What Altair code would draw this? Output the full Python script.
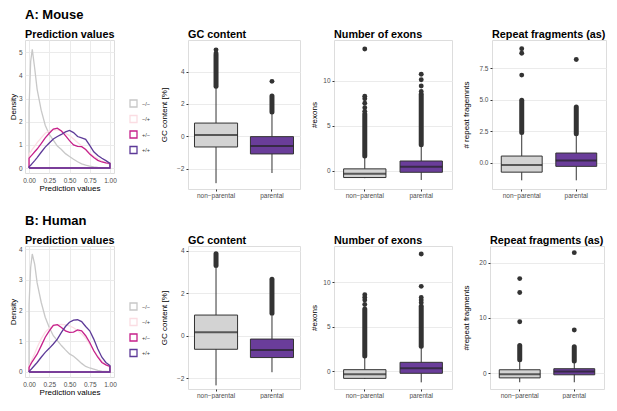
import altair as alt
import pandas as pd

FONT = "Liberation Sans"
GROUPS = ["−/−", "−/+", "+/−", "+/+"]
GROUP_COLORS = ["#c8c8c8", "#fbdde3", "#c6218b", "#5d3a98"]
CATS = ["non−parental", "parental"]
CAT_FILL = ["#d3d3d3", "#6a3d9a"]

DENS_X = [0.0, 0.02, 0.04, 0.07, 0.1, 0.15, 0.2, 0.25, 0.3, 0.35, 0.4, 0.45,
          0.5, 0.55, 0.6, 0.65, 0.7, 0.75, 0.8, 0.85, 0.9, 0.95, 1.0]

MOUSE_NN = [2.6, 4.6, 5.13, 4.3, 3.4, 2.5, 1.85, 1.45, 1.2, 0.95, 0.8, 0.62,
            0.5, 0.38, 0.27, 0.18, 0.12, 0.08, 0.05, 0.03, 0.02, 0.01, 0.0]
MOUSE_NP = [0.6, 0.7, 0.8, 0.95, 1.1, 1.3, 1.5, 1.6, 1.65, 1.65, 1.6, 1.5,
            1.4, 1.25, 1.1, 0.95, 0.8, 0.65, 0.5, 0.4, 0.3, 0.22, 0.15]
MOUSE_PN = [0.42, 0.5, 0.58, 0.7, 0.82, 1.05, 1.3, 1.5, 1.68, 1.72, 1.6, 1.4,
            1.18, 1.0, 0.93, 0.92, 0.8, 0.6, 0.45, 0.33, 0.26, 0.22, 0.2]
MOUSE_PP = [0.05, 0.12, 0.2, 0.32, 0.45, 0.68, 0.9, 1.08, 1.25, 1.36, 1.45, 1.56,
            1.62, 1.53, 1.36, 1.3, 1.24, 0.98, 0.7, 0.54, 0.42, 0.32, 0.2]

HUMAN_NN = [2.2, 3.4, 3.84, 3.5, 2.9, 2.27, 1.78, 1.45, 1.18, 1.02, 0.86, 0.72,
            0.59, 0.51, 0.4, 0.28, 0.18, 0.13, 0.09, 0.05, 0.03, 0.02, 0.01]
HUMAN_NP = [0.2, 0.3, 0.42, 0.6, 0.8, 1.08, 1.3, 1.42, 1.5, 1.54, 1.55, 1.53,
            1.5, 1.44, 1.35, 1.24, 1.1, 0.9, 0.7, 0.52, 0.35, 0.24, 0.15]
HUMAN_PN = [0.15, 0.25, 0.34, 0.46, 0.58, 0.85, 1.13, 1.34, 1.52, 1.54, 1.45, 1.34,
            1.29, 1.3, 1.37, 1.34, 1.18, 0.96, 0.69, 0.48, 0.31, 0.23, 0.18]
HUMAN_PP = [0.02, 0.07, 0.13, 0.22, 0.31, 0.48, 0.64, 0.77, 0.91, 1.07, 1.29, 1.48,
            1.62, 1.69, 1.7, 1.64, 1.48, 1.34, 1.07, 0.75, 0.48, 0.31, 0.21]

# box stats: [lower whisker, q1, median, q3, upper whisker]
M_GC_NP = [-2.9, -0.66, 0.08, 0.82, 3.05]
M_GC_P = [-2.27, -1.09, -0.6, -0.02, 1.45]
M_GC_DENSE = [("non−parental", 3.1, 5.05), ("parental", 1.5, 2.5)]
M_GC_OUT = [("non−parental", 5.15), ("non−parental", 5.35), ("parental", 3.4)]

M_EX_NP = [-0.8, -0.73, -0.3, 0.23, 1.56]
M_EX_P = [-1.0, -0.15, 0.46, 1.1, 2.8]
M_EX_DENSE = [("non−parental", 1.65, 6.3), ("parental", 2.9, 8.5)]
M_EX_OUT = [("non−parental", 6.6), ("non−parental", 7.0), ("non−parental", 7.5),
            ("non−parental", 8.0), ("non−parental", 8.28), ("non−parental", 13.5),
            ("parental", 8.8), ("parental", 9.4), ("parental", 10.1), ("parental", 10.7)]

M_RF_NP = [-1.41, -0.76, -0.19, 0.52, 2.34]
M_RF_P = [-1.41, -0.3, 0.16, 0.76, 2.2]
M_RF_DENSE = [("non−parental", 2.4, 4.95), ("parental", 2.3, 4.43)]
M_RF_OUT = [("non−parental", 6.96), ("non−parental", 8.7), ("non−parental", 9.05),
            ("parental", 8.2)]

H_GC_NP = [-2.34, -0.64, 0.16, 0.97, 3.2]
H_GC_P = [-1.72, -1.03, -0.67, -0.16, 0.95]
H_GC_DENSE = [("non−parental", 3.3, 3.85), ("parental", 1.06, 2.65)]
H_GC_OUT = []

H_EX_NP = [-0.9, -0.83, -0.38, 0.15, 1.65]
H_EX_P = [-1.28, -0.26, 0.3, 0.98, 2.67]
H_EX_DENSE = [("non−parental", 1.7, 7.0), ("parental", 2.8, 7.3)]
H_EX_OUT = [("non−parental", 7.5), ("non−parental", 8.0), ("non−parental", 8.3),
            ("non−parental", 8.6), ("parental", 7.7), ("parental", 8.0),
            ("parental", 8.3), ("parental", 9.55), ("parental", 13.2)]

H_RF_NP = [-1.65, -0.86, -0.18, 0.61, 2.3]
H_RF_P = [-1.65, -0.3, 0.3, 0.8, 2.0]
H_RF_DENSE = [("non−parental", 2.4, 5.0), ("parental", 2.2, 4.77)]
H_RF_OUT = [("non−parental", 9.3), ("non−parental", 14.6), ("non−parental", 17.1),
            ("parental", 7.8), ("parental", 21.8)]

TICK_LABEL = dict(labelColor="#4d4d4d", labelFontSize=6.5, labelFont=FONT)
TITLE_AX = dict(titleColor="#000", titleFontSize=8, titleFontWeight="normal", titleFont=FONT)
SUB_T = dict(anchor="start", frame="group", fontSize=10.8, fontWeight="bold", font=FONT, color="#000")


def dens_df(series):
    rows = []
    for g, vals in zip(GROUPS, series):
        pts = [(0.0, 0.0)] + list(zip(DENS_X, vals)) + [(1.0, 0.0), (0.0, 0.0)]
        for i, (x, y) in enumerate(pts):
            rows.append({"group": g, "x": x, "y": y, "ord": i})
    return pd.DataFrame(rows)


def density_chart(label, series, ydom, yvals, height, legend_y):
    w = 89
    return alt.Chart(dens_df(series)).mark_line(strokeWidth=1.3).encode(
        x=alt.X("x:Q", scale=alt.Scale(domain=[-0.05, 1.05], nice=False, zero=False),
                axis=alt.Axis(values=[0, 0.25, 0.5, 0.75, 1], format=".2f", title="Prediction values",
                              ticks=False, domain=False, gridColor="#ebebeb", labelPadding=4,
                              titlePadding=1, **TICK_LABEL, **TITLE_AX)),
        y=alt.Y("y:Q", scale=alt.Scale(domain=ydom, nice=False, zero=False),
                axis=alt.Axis(values=yvals, title="Density", ticks=False, domain=False,
                              gridColor="#ebebeb", labelPadding=3, titlePadding=1,
                              **TICK_LABEL, **TITLE_AX)),
        color=alt.Color("group:N", scale=alt.Scale(domain=GROUPS, range=GROUP_COLORS),
                        legend=alt.Legend(title=None, orient="none", legendX=w + 15, legendY=legend_y,
                                          padding=0, symbolType="square", symbolSize=49,
                                          symbolStrokeWidth=1.3, symbolFillColor="white",
                                          labelFontSize=5.5, labelColor="#333", labelFont=FONT,
                                          rowPadding=2.5, labelOffset=4)),
        detail="group:N",
        order="ord:Q",
    ).properties(width=w, height=height,
                 title=alt.TitleParams(label, subtitle="Prediction values", offset=0,
                                       anchor="start", frame="group", fontSize=13,
                                       fontWeight="bold", font=FONT, color="#000",
                                       subtitleFontSize=10.8, subtitleFontWeight="bold",
                                       subtitleFont=FONT, subtitleColor="#000",
                                       subtitlePadding=7))


def box_chart(np_stats, p_stats, dense, outs, ydom, yvals, yfmt, ytitle, title,
              width, height, pi, po, tpad):
    stats = pd.DataFrame([dict(cat=c, lo=s[0], q1=s[1], med=s[2], q3=s[3], hi=s[4])
                          for c, s in zip(CATS, [np_stats, p_stats])])
    dense_df = pd.DataFrame(dense, columns=["cat", "a", "b"])
    bw = width * (1 - pi) / (2 - pi + 2 * po)
    xenc = alt.X("cat:N", sort=CATS,
                 scale=alt.Scale(domain=CATS, paddingInner=pi, paddingOuter=po),
                 axis=alt.Axis(title=None, labelAngle=0, domain=False, tickColor="#333", tickSize=2,
                               gridColor="#ebebeb", bandPosition=0.5, labelPadding=1, **TICK_LABEL))
    yscale = alt.Scale(domain=ydom, nice=False, zero=False)
    yaxis = alt.Axis(values=yvals, format=yfmt, title=ytitle, domain=False, tickColor="#333",
                     tickSize=2, gridColor="#ebebeb", labelPadding=2, titlePadding=tpad,
                     **TICK_LABEL, **TITLE_AX)
    base = alt.Chart(stats)
    whisk = base.mark_rule(color="#333", strokeWidth=1).encode(
        x=xenc, y=alt.Y("lo:Q", scale=yscale, axis=yaxis), y2="hi:Q")
    box = base.mark_bar(stroke="#333", strokeWidth=1).encode(
        x=xenc, y=alt.Y("q1:Q", scale=yscale), y2="q3:Q",
        fill=alt.Fill("cat:N", scale=alt.Scale(domain=CATS, range=CAT_FILL), legend=None))
    med = base.mark_tick(color="#222", thickness=2, size=bw).encode(
        x=xenc, y=alt.Y("med:Q", scale=yscale))
    dn = alt.Chart(dense_df).mark_rule(color="#333", strokeWidth=5, strokeCap="round").encode(
        x=xenc, y=alt.Y("a:Q", scale=yscale), y2="b:Q")
    layers = [whisk, box, med, dn]
    if outs:
        out_df = pd.DataFrame(outs, columns=["cat", "v"])
        pts = alt.Chart(out_df).mark_circle(color="#333", size=24, opacity=1).encode(
            x=xenc, y=alt.Y("v:Q", scale=yscale))
        layers.append(pts)
    return alt.layer(*layers).properties(
        width=width, height=height, title=alt.TitleParams(title, offset=0, **SUB_T))


def row(dens, boxes):
    r = alt.hconcat(dens, *boxes, spacing=9)
    return r.resolve_scale(color="independent", fill="independent").resolve_legend(color="independent")


rowA = row(density_chart("A: Mouse", [MOUSE_NN, MOUSE_NP, MOUSE_PN, MOUSE_PP], [-0.216, 5.53],
                         [0, 1, 2, 3, 4, 5], 133, 59),
           [box_chart(M_GC_NP, M_GC_P, M_GC_DENSE, M_GC_OUT, [-3.26, 5.96], [-2, 0, 2, 4], "d",
                      "GC content [%]", "GC content", 112, 149, 0.23, 0.116, 8),
            box_chart(M_EX_NP, M_EX_P, M_EX_DENSE, M_EX_OUT, [-2.0, 14.5], [0, 5, 10], "d",
                      "#exons", "Number of exons", 118, 149, 0.25, 0.17, 4),
            box_chart(M_RF_NP, M_RF_P, M_RF_DENSE, M_RF_OUT, [-2.1, 9.75], [0, 2.5, 5, 7.5], ".1f",
                      "# repeat fragemnts", "Repeat fragments (as)", 114, 149, 0.25, 0.17, 8)])

rowB = row(density_chart("B: Human", [HUMAN_NN, HUMAN_NP, HUMAN_PN, HUMAN_PP], [-0.163, 4.1],
                         [0, 1, 2, 3, 4], 131, 56),
           [box_chart(H_GC_NP, H_GC_P, H_GC_DENSE, H_GC_OUT, [-2.51, 4.22], [-2, 0, 2, 4], "d",
                      "GC content [%]", "GC content", 112, 143, 0.23, 0.116, 8),
            box_chart(H_EX_NP, H_EX_P, H_EX_DENSE, H_EX_OUT, [-2.03, 14.1], [0, 5, 10], "d",
                      "#exons", "Number of exons", 118, 143, 0.25, 0.17, 4),
            box_chart(H_RF_NP, H_RF_P, H_RF_DENSE, H_RF_OUT, [-2.87, 23.0], [0, 5, 10, 15, 20], "d",
                      "#repeat fragments", "Repeat fragments (as)", 114, 143, 0.25, 0.17, 8)])

chart = alt.vconcat(rowA, rowB, spacing=15).resolve_scale(
    color="independent", fill="independent").resolve_legend(color="independent").properties(
    padding=0, background="white").configure_view(stroke=None).configure(font=FONT)

chart.save("out.html", embed_options={"renderer": "svg", "actions": False})
